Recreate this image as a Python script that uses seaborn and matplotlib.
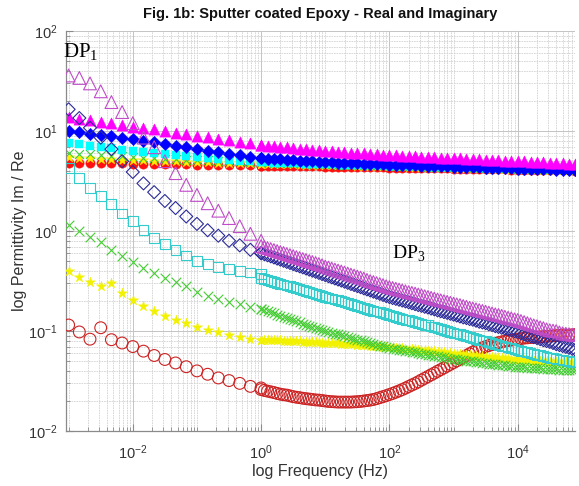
import numpy as np
import matplotlib
matplotlib.use("Agg")
import matplotlib.pyplot as plt
import matplotlib.ticker as mticker
import seaborn as sns

# ---------------- data ----------------
# low-frequency sweep (Hz)
f_low = [0.001, 0.001468, 0.002154, 0.003162, 0.004642, 0.006813, 0.01, 0.01468,
         0.02154, 0.03162, 0.04642, 0.06813, 0.1, 0.1468, 0.2154, 0.3162, 0.4642,
         0.6813, 1.0]
# high-frequency sweep (Hz), real-part readings
f_high = [1.0, 1.259, 1.585, 1.995, 2.512, 3.162, 3.981, 5.012, 6.310, 7.943,
          10.0, 12.59, 15.85, 19.95, 25.12, 31.62, 39.81, 50.12, 63.10, 79.43,
          100.0, 125.9, 158.5, 199.5, 251.2, 316.2, 398.1, 501.2, 631.0, 794.3,
          1000.0, 1259.0, 1585.0, 1995.0, 2512.0, 3162.0, 3981.0, 5012.0, 6310.0, 7943.0,
          10000.0, 12589.0, 15849.0, 19953.0, 25119.0, 31623.0, 39811.0, 50119.0, 63096.0, 79433.0]
# high-frequency sweep (Hz), imaginary-part readings (denser)
f_high_im = [1.0, 1.122, 1.259, 1.413, 1.585, 1.778, 1.995, 2.239, 2.512, 2.818,
             3.162, 3.548, 3.981, 4.467, 5.012, 5.623, 6.310, 7.079, 7.943, 8.913,
             10.0, 11.22, 12.59, 14.13, 15.85, 17.78, 19.95, 22.39, 25.12, 28.18,
             31.62, 35.48, 39.81, 44.67, 50.12, 56.23, 63.10, 70.79, 79.43, 89.13,
             100.0, 112.2, 125.9, 141.3, 158.5, 177.8, 199.5, 223.9, 251.2, 281.8,
             316.2, 354.8, 398.1, 446.7, 501.2, 562.3, 631.0, 707.9, 794.3, 891.3,
             1000.0, 1122.0, 1259.0, 1413.0, 1585.0, 1778.0, 1995.0, 2239.0, 2512.0, 2818.0,
             3162.0, 3548.0, 3981.0, 4467.0, 5012.0, 5623.0, 6310.0, 7079.0, 7943.0, 8913.0,
             10000.0, 11220.0, 12589.0, 14125.0, 15849.0, 17783.0, 19953.0, 22387.0, 25119.0, 28184.0,
             31623.0, 35481.0, 39811.0, 44668.0, 50119.0, 56234.0, 63096.0, 70795.0, 79433.0]

# ---- real part (filled markers, upper band) ----
re_red_low = [4.84, 4.82, 4.80, 4.78, 4.77, 4.75, 4.73, 4.71, 4.70, 4.68, 4.66, 4.65,
              4.62, 4.61, 4.59, 4.57, 4.56, 4.54, 4.52]
re_red_high = [4.52, 4.51, 4.50, 4.49, 4.48, 4.47, 4.46, 4.45, 4.44, 4.43, 4.42, 4.41,
               4.40, 4.39, 4.38, 4.37, 4.36, 4.35, 4.34, 4.33, 4.32, 4.31, 4.30, 4.29,
               4.28, 4.27, 4.26, 4.25, 4.24, 4.23, 4.22, 4.21, 4.20, 4.19, 4.18, 4.17,
               4.16, 4.15, 4.14, 4.13, 4.12, 4.11, 4.10, 4.09, 4.08, 4.07, 4.06, 4.05, 4.04, 4.03]
re_yel_low = [5.50, 5.43, 5.37, 5.31, 5.25, 5.19, 5.13, 5.09, 5.05, 5.01, 4.97, 4.94,
              4.90, 4.87, 4.84, 4.81, 4.78, 4.76, 4.73]
re_yel_high = [4.73, 4.72, 4.70, 4.68, 4.67, 4.65, 4.63, 4.62, 4.60, 4.59, 4.57, 4.56,
               4.55, 4.54, 4.53, 4.52, 4.51, 4.49, 4.48, 4.47, 4.47, 4.45, 4.44, 4.42,
               4.41, 4.39, 4.38, 4.36, 4.35, 4.33, 4.32, 4.31, 4.29, 4.28, 4.26, 4.25,
               4.24, 4.22, 4.21, 4.20, 4.17, 4.16, 4.15, 4.14, 4.13, 4.12, 4.11, 4.10, 4.09, 4.07]
re_grn_low = [6.03, 5.94, 5.84, 5.75, 5.66, 5.58, 5.50, 5.43, 5.37, 5.31, 5.25, 5.19,
              5.13, 5.09, 5.05, 5.01, 4.97, 4.94, 4.90]
re_grn_high = [4.89, 4.87, 4.84, 4.82, 4.80, 4.78, 4.76, 4.73, 4.71, 4.69, 4.67, 4.65,
               4.63, 4.62, 4.60, 4.58, 4.57, 4.55, 4.54, 4.52, 4.50, 4.49, 4.47, 4.46,
               4.44, 4.43, 4.41, 4.40, 4.38, 4.37, 4.35, 4.34, 4.33, 4.31, 4.30, 4.29,
               4.28, 4.26, 4.25, 4.24, 4.22, 4.21, 4.20, 4.19, 4.18, 4.17, 4.16, 4.15, 4.14, 4.12]
re_cyn_low = [7.59, 7.36, 7.14, 6.92, 6.71, 6.51, 6.31, 6.17, 6.03, 5.89, 5.76, 5.63,
              5.50, 5.37, 5.25, 5.13, 5.05, 4.98, 4.90]
re_cyn_high = [4.90, 4.88, 4.85, 4.83, 4.81, 4.79, 4.77, 4.74, 4.72, 4.70, 4.68, 4.66,
               4.65, 4.63, 4.62, 4.60, 4.58, 4.57, 4.55, 4.54, 4.52, 4.50, 4.49, 4.47,
               4.46, 4.44, 4.43, 4.41, 4.40, 4.38, 4.37, 4.36, 4.35, 4.34, 4.33, 4.32,
               4.31, 4.30, 4.29, 4.28, 4.27, 4.26, 4.25, 4.24, 4.23, 4.22, 4.21, 4.20, 4.19, 4.17]
re_blu_low = [10.0, 9.70, 9.40, 9.12, 8.85, 8.57, 8.32, 8.00, 7.71, 7.41, 7.13, 6.87,
              6.61, 6.35, 6.12, 5.89, 5.71, 5.53, 5.37]
re_blu_high = [5.37, 5.32, 5.27, 5.22, 5.17, 5.13, 5.08, 5.03, 4.98, 4.94, 4.90, 4.87,
               4.84, 4.81, 4.79, 4.76, 4.73, 4.70, 4.68, 4.65, 4.62, 4.60, 4.58, 4.56,
               4.54, 4.52, 4.50, 4.48, 4.46, 4.44, 4.42, 4.40, 4.38, 4.36, 4.34, 4.32,
               4.30, 4.28, 4.26, 4.24, 4.22, 4.20, 4.19, 4.17, 4.16, 4.14, 4.13, 4.11, 4.10, 4.07]
re_mag_low = [13.8, 13.3, 12.9, 12.4, 12.0, 11.5, 11.1, 10.7, 10.4, 10.0, 9.64, 9.31,
              8.97, 8.67, 8.36, 8.07, 7.78, 7.52, 7.24]
re_mag_high = [7.24, 7.14, 7.05, 6.95, 6.86, 6.76, 6.68, 6.59, 6.50, 6.41, 6.31, 6.26,
               6.20, 6.14, 6.08, 6.03, 5.97, 5.91, 5.86, 5.80, 5.75, 5.71, 5.67, 5.63,
               5.59, 5.55, 5.51, 5.47, 5.43, 5.40, 5.37, 5.33, 5.30, 5.26, 5.22, 5.19,
               5.15, 5.11, 5.08, 5.05, 5.01, 4.97, 4.93, 4.90, 4.86, 4.82, 4.79, 4.75, 4.72, 4.68]

# ---- imaginary part (open markers, lower curves) ----
im_red_low = [0.115, 0.098, 0.083, 0.108, 0.082, 0.076, 0.070, 0.063, 0.057, 0.052,
              0.048, 0.044, 0.040, 0.037, 0.034, 0.032, 0.030, 0.028, 0.027]
im_red_high = [0.0260, 0.0255, 0.0251, 0.0247, 0.0243, 0.0238, 0.0234, 0.0231, 0.0229, 0.0225,
               0.0221, 0.0218, 0.0216, 0.0213, 0.0211, 0.0209, 0.0207, 0.0205, 0.0204, 0.0202,
               0.0200, 0.0198, 0.0197, 0.0196, 0.0195, 0.0195, 0.0195, 0.0195, 0.0195, 0.0196,
               0.0197, 0.0198, 0.0200, 0.0202, 0.0204, 0.0207, 0.0211, 0.0216, 0.0221, 0.0226,
               0.0232, 0.0238, 0.0245, 0.0252, 0.0260, 0.0269, 0.0279, 0.0289, 0.0299, 0.0311,
               0.0324, 0.0337, 0.0351, 0.0365, 0.0380, 0.0396, 0.0412, 0.0429, 0.0447, 0.0465,
               0.0484, 0.0504, 0.0525, 0.0547, 0.0569, 0.0593, 0.0617, 0.0639, 0.0661, 0.0680,
               0.0700, 0.0716, 0.0733, 0.0750, 0.0767, 0.0780, 0.0794, 0.0803, 0.0813, 0.0822,
               0.0832, 0.0841, 0.0851, 0.0856, 0.0861, 0.0866, 0.0871, 0.0876, 0.0881, 0.0886,
               0.0891, 0.0896, 0.0902, 0.0907, 0.0912, 0.0912, 0.0912, 0.0917, 0.0923]
im_yel_low = [0.40, 0.35, 0.31, 0.28, 0.30, 0.24, 0.205, 0.18, 0.16, 0.142, 0.13, 0.12,
              0.11, 0.103, 0.097, 0.092, 0.088, 0.084, 0.081]
im_yel_high = [0.0813, 0.0812, 0.0811, 0.0810, 0.0809, 0.0808, 0.0806, 0.0804, 0.0802, 0.0798,
               0.0794, 0.0791, 0.0789, 0.0786, 0.0783, 0.0780, 0.0776, 0.0773, 0.0770, 0.0768,
               0.0767, 0.0763, 0.0760, 0.0756, 0.0753, 0.0750, 0.0746, 0.0742, 0.0739, 0.0736,
               0.0733, 0.0728, 0.0724, 0.0720, 0.0716, 0.0712, 0.0708, 0.0704, 0.0700, 0.0696,
               0.0692, 0.0687, 0.0682, 0.0677, 0.0673, 0.0668, 0.0664, 0.0659, 0.0655, 0.0650,
               0.0646, 0.0641, 0.0636, 0.0631, 0.0626, 0.0621, 0.0616, 0.0611, 0.0606, 0.0601,
               0.0596, 0.0592, 0.0588, 0.0584, 0.0580, 0.0576, 0.0572, 0.0568, 0.0564, 0.0560,
               0.0556, 0.0552, 0.0549, 0.0545, 0.0541, 0.0537, 0.0534, 0.0530, 0.0526, 0.0522,
               0.0519, 0.0516, 0.0514, 0.0511, 0.0509, 0.0506, 0.0504, 0.0502, 0.0500, 0.0497,
               0.0495, 0.0493, 0.0492, 0.0490, 0.0488, 0.0486, 0.0485, 0.0482, 0.0479]
im_grn_low = [1.15, 1.0, 0.88, 0.78, 0.65, 0.56, 0.49, 0.43, 0.38, 0.34, 0.31, 0.28,
              0.245, 0.225, 0.21, 0.195, 0.185, 0.175, 0.165]
im_grn_high = [0.166, 0.162, 0.158, 0.154, 0.150, 0.146, 0.143, 0.139, 0.136, 0.132,
               0.129, 0.125, 0.122, 0.119, 0.116, 0.113, 0.111, 0.108, 0.105, 0.102,
               0.100, 0.0981, 0.0962, 0.0943, 0.0925, 0.0907, 0.0889, 0.0872, 0.0855, 0.0838,
               0.0822, 0.0806, 0.0791, 0.0775, 0.0760, 0.0745, 0.0731, 0.0717, 0.0703, 0.0689,
               0.0676, 0.0667, 0.0659, 0.0651, 0.0643, 0.0635, 0.0627, 0.0619, 0.0611, 0.0603,
               0.0596, 0.0588, 0.0581, 0.0573, 0.0566, 0.0559, 0.0552, 0.0545, 0.0538, 0.0531,
               0.0525, 0.0520, 0.0515, 0.0510, 0.0506, 0.0501, 0.0497, 0.0492, 0.0488, 0.0483,
               0.0479, 0.0474, 0.0470, 0.0465, 0.0461, 0.0457, 0.0453, 0.0449, 0.0445, 0.0441,
               0.0437, 0.0435, 0.0433, 0.0431, 0.0429, 0.0427, 0.0425, 0.0423, 0.0421, 0.0419,
               0.0417, 0.0415, 0.0414, 0.0412, 0.0411, 0.0410, 0.0409, 0.0408, 0.0407]
im_cyn_low = [4.3, 3.4, 2.7, 2.25, 1.85, 1.5, 1.25, 1.03, 0.85, 0.74, 0.65, 0.57,
              0.50, 0.47, 0.44, 0.42, 0.40, 0.385, 0.37]
im_cyn_high = [0.339, 0.332, 0.325, 0.318, 0.311, 0.304, 0.298, 0.292, 0.286, 0.280,
               0.274, 0.268, 0.262, 0.257, 0.252, 0.246, 0.241, 0.236, 0.231, 0.226,
               0.221, 0.216, 0.212, 0.207, 0.203, 0.199, 0.195, 0.191, 0.187, 0.183,
               0.179, 0.175, 0.171, 0.167, 0.164, 0.160, 0.157, 0.154, 0.151, 0.148,
               0.145, 0.142, 0.139, 0.136, 0.133, 0.130, 0.128, 0.125, 0.123, 0.120,
               0.118, 0.116, 0.114, 0.111, 0.109, 0.107, 0.105, 0.103, 0.101, 0.0988,
               0.0966, 0.0947, 0.0928, 0.0909, 0.0891, 0.0873, 0.0856, 0.0839, 0.0822, 0.0806,
               0.0790, 0.0774, 0.0759, 0.0744, 0.0729, 0.0714, 0.0700, 0.0686, 0.0672, 0.0659,
               0.0646, 0.0635, 0.0624, 0.0613, 0.0603, 0.0592, 0.0582, 0.0572, 0.0562, 0.0552,
               0.0543, 0.0534, 0.0525, 0.0519, 0.0513, 0.0507, 0.0501, 0.0495, 0.0490]
im_blu_low = [16.5, 13.5, 10.8, 8.6, 6.6, 5.0, 3.9, 3.0, 2.45, 2.0, 1.7, 1.4,
              1.18, 1.02, 0.90, 0.80, 0.72, 0.65, 0.60]
im_blu_high = [0.603, 0.588, 0.573, 0.559, 0.545, 0.531, 0.518, 0.505, 0.492, 0.480,
               0.468, 0.456, 0.445, 0.434, 0.423, 0.412, 0.402, 0.392, 0.382, 0.372,
               0.363, 0.354, 0.345, 0.336, 0.328, 0.320, 0.312, 0.304, 0.296, 0.289,
               0.282, 0.275, 0.268, 0.261, 0.255, 0.248, 0.242, 0.236, 0.230, 0.224,
               0.219, 0.214, 0.210, 0.206, 0.202, 0.198, 0.194, 0.190, 0.186, 0.182,
               0.179, 0.175, 0.172, 0.168, 0.165, 0.161, 0.158, 0.155, 0.152, 0.149,
               0.146, 0.143, 0.140, 0.137, 0.135, 0.132, 0.130, 0.127, 0.124, 0.122,
               0.120, 0.117, 0.115, 0.112, 0.110, 0.108, 0.106, 0.104, 0.102, 0.100,
               0.098, 0.095, 0.093, 0.091, 0.089, 0.087, 0.085, 0.083, 0.081, 0.0795,
               0.078, 0.076, 0.074, 0.0725, 0.071, 0.0695, 0.068, 0.0665, 0.065]
im_mag_low = [36.0, 34.0, 30.0, 25.0, 19.5, 15.5, 12.0, 8.6, 6.9, 5.0, 3.8, 2.9,
              2.3, 1.9, 1.6, 1.35, 1.12, 0.94, 0.80]
im_mag_high = [0.708, 0.692, 0.676, 0.661, 0.646, 0.631, 0.617, 0.603, 0.589, 0.575,
               0.562, 0.549, 0.537, 0.525, 0.513, 0.501, 0.490, 0.479, 0.468, 0.455,
               0.442, 0.432, 0.422, 0.412, 0.403, 0.394, 0.385, 0.376, 0.367, 0.359,
               0.351, 0.343, 0.335, 0.325, 0.316, 0.309, 0.302, 0.295, 0.288, 0.281,
               0.275, 0.270, 0.265, 0.260, 0.255, 0.250, 0.245, 0.241, 0.237, 0.232,
               0.228, 0.223, 0.219, 0.215, 0.211, 0.207, 0.203, 0.199, 0.196, 0.192,
               0.188, 0.185, 0.182, 0.178, 0.175, 0.171, 0.168, 0.165, 0.162, 0.159,
               0.156, 0.153, 0.150, 0.147, 0.145, 0.142, 0.139, 0.136, 0.134, 0.131,
               0.129, 0.126, 0.123, 0.120, 0.117, 0.114, 0.112, 0.109, 0.107, 0.104,
               0.102, 0.101, 0.100, 0.097, 0.095, 0.094, 0.093, 0.092, 0.091]

title = "Fig. 1b: Sputter coated Epoxy - Real and Imaginary"
xlabel = "log Frequency (Hz)"
ylabel = "log Permittivity Im / Re"
x_ticks = [1e-2, 1e0, 1e2, 1e4]
y_ticks = [1e-2, 1e-1, 1e0, 1e1, 1e2]

# ---------------- style ----------------
sns.set_theme(style="white")
plt.rcParams["font.family"] = ["Liberation Sans", "DejaVu Sans"]

fig = plt.figure(figsize=(5.79, 4.86), dpi=100)
ax = fig.add_axes([0.114, 0.113, 0.879, 0.823])

f_re = f_low + f_high
f_im = f_low + f_high_im

def draw(x, vals, marker, s, color, filled, lw=0.8, z=2):
    kw = dict(x=x, y=vals, ax=ax, marker=marker, s=s, zorder=z, legend=False)
    if marker in ("x", "+"):
        sns.scatterplot(color=color, linewidth=lw, **kw)
    elif filled:
        sns.scatterplot(color=color, edgecolor=color, linewidth=0.3, **kw)
    else:
        sns.scatterplot(facecolor="none", edgecolor=color, linewidth=lw, **kw)

# real part (filled)
draw(f_re, re_red_low + re_red_high, "o", 45, "#ff1010", True, z=2)
draw(f_re, re_yel_low + re_yel_high, "*", 60, "#ffee00", True, z=2)
draw(f_re, re_grn_low + re_grn_high, "x", 42, "#3ccc3c", True, z=2)
draw(f_re, re_cyn_low + re_cyn_high, "s", 40, "#00ffff", True, z=2)
draw(f_re, re_blu_low + re_blu_high, "D", 40, "#0000ff", True, z=2)
draw(f_re, re_mag_low + re_mag_high, "^", 66, "#ff00ff", True, z=2)

# imaginary part (open)
draw(f_im, im_red_low + im_red_high, "o", 72, "#cc2222", False, z=3)
draw(f_im, im_yel_low + im_yel_high, "*", 60, "#f2f200", True, z=3)
draw(f_im, im_grn_low + im_grn_high, "x", 48, "#44cc33", False, z=3)
draw(f_im, im_cyn_low + im_cyn_high, "s", 50, "#33cccc", False, z=3)
draw(f_im, im_blu_low + im_blu_high, "D", 44, "#2a2a9a", False, z=3)
draw(f_im, im_mag_low + im_mag_high, "^", 85, "#c04cc8", False, z=3)

ax.set_xscale("log")
ax.set_yscale("log")
ax.set_xlim(9.1e-4, 7.8e4)
ax.set_ylim(1e-2, 1e2)

ax.xaxis.set_major_locator(mticker.FixedLocator(x_ticks))
ax.xaxis.set_minor_locator(mticker.LogLocator(base=10, subs=np.arange(1, 10), numticks=30))
ax.xaxis.set_minor_formatter(mticker.NullFormatter())
ax.yaxis.set_major_locator(mticker.FixedLocator(y_ticks))
ax.yaxis.set_minor_locator(mticker.LogLocator(base=10, subs=np.arange(2, 10), numticks=30))
ax.yaxis.set_minor_formatter(mticker.NullFormatter())
ax.xaxis.set_major_formatter(mticker.LogFormatterSciNotation())
ax.yaxis.set_major_formatter(mticker.LogFormatterSciNotation())

ax.grid(True, which="major", color="#c4c4c4", linewidth=0.7, zorder=0)
ax.grid(True, which="minor", color="#d2d2d2", linewidth=0.6, linestyle=(0, (2, 1)), zorder=0)
ax.set_axisbelow(True)

for side in ("top", "right"):
    ax.spines[side].set_visible(False)
for side in ("left", "bottom"):
    ax.spines[side].set_color("#8a8a8a")
    ax.spines[side].set_linewidth(0.9)

ax.tick_params(which="both", direction="in", colors="#8a8a8a", labelcolor="#333333",
               bottom=True, left=True, top=False, right=False)
ax.tick_params(which="major", length=5, width=0.8)
ax.tick_params(which="minor", length=3, width=0.6)
ax.tick_params(axis="x", which="major", labelsize=10.5, pad=9)
ax.tick_params(axis="y", which="major", labelsize=10.5, pad=6)

ax.set_xlabel(xlabel, fontsize=11.5, color="#333333", labelpad=1)
ax.set_ylabel(ylabel, fontsize=11.5, color="#333333", labelpad=1)
ax.set_title(title, fontsize=10.5, fontweight="bold", color="#111111", pad=9.5)

ax.text(-0.006, 0.935, r"DP$_\mathregular{1}$", transform=ax.transAxes,
        fontsize=15, family=["Liberation Serif", "DejaVu Serif"], color="black",
        va="baseline", ha="left", zorder=5)
ax.text(0.640, 0.43, r"DP$_\mathregular{3}$", transform=ax.transAxes,
        fontsize=14, family=["Liberation Serif", "DejaVu Serif"], color="black",
        va="baseline", ha="left", zorder=5)

fig.savefig("out.png", dpi=100)
